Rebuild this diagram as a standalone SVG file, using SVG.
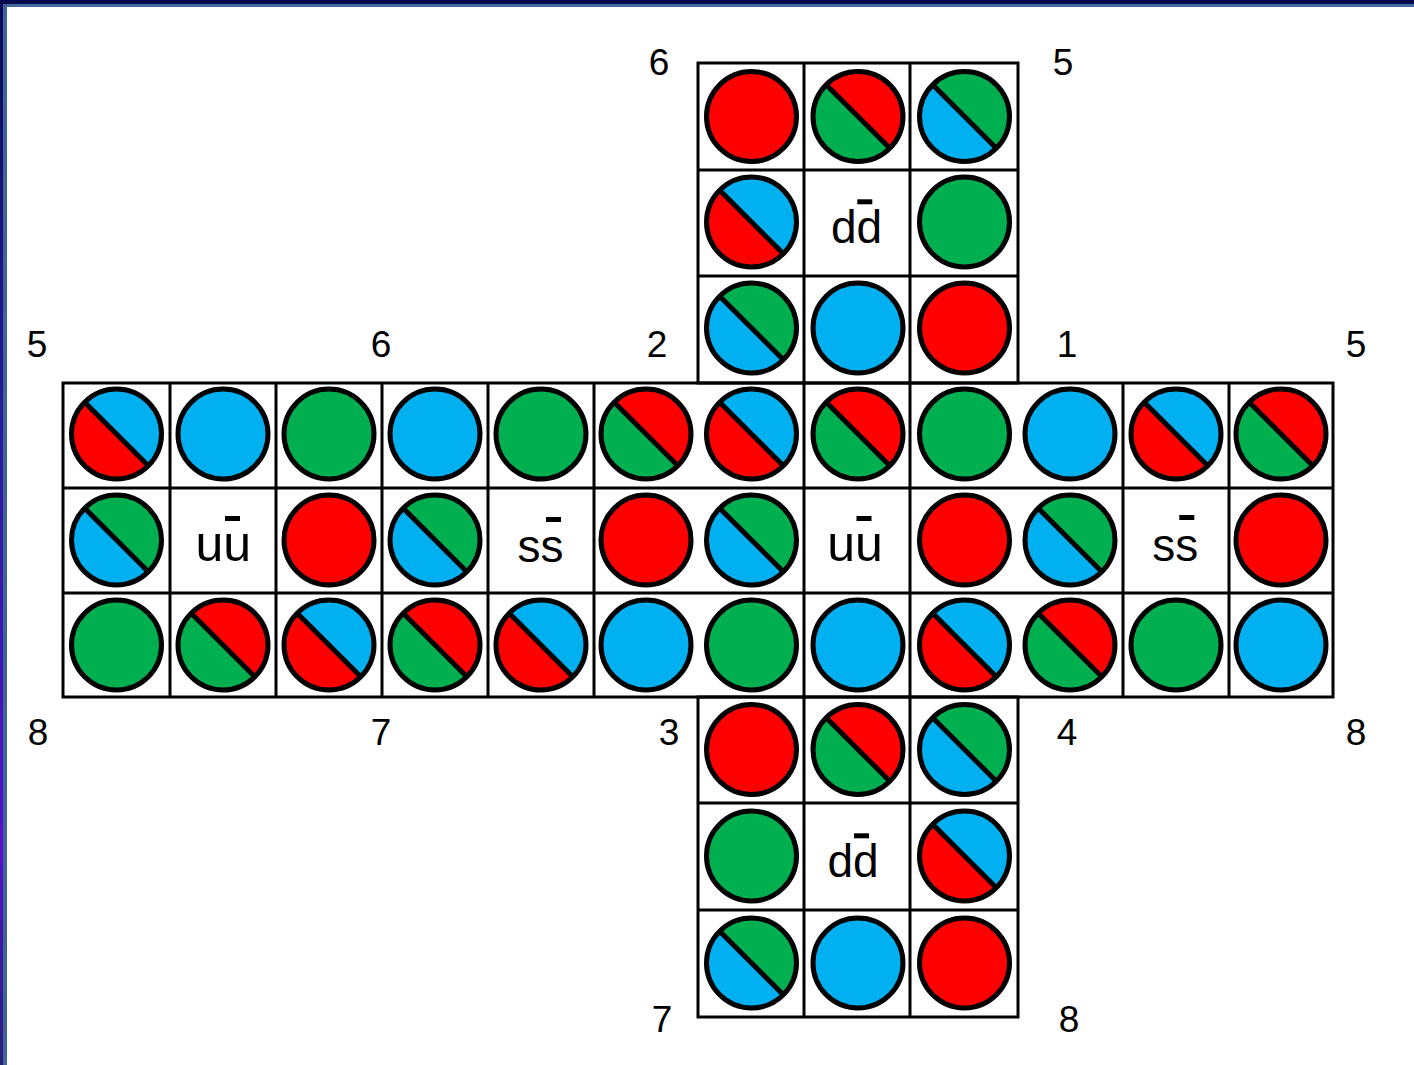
<svg xmlns="http://www.w3.org/2000/svg" xmlns:xlink="http://www.w3.org/1999/xlink" width="1414" height="1065" viewBox="0 0 1414 1065">
<style>
.R{fill:#FF0000}.G{fill:#00B050}.B{fill:#00B0F0}
.c{stroke:#000;stroke-width:5}
.grid{fill:none;stroke:#000;stroke-width:3}
.lbl{font-family:"Liberation Sans",Arial,sans-serif;font-size:37px;fill:#000;text-anchor:middle}
.q{font-family:"Liberation Sans",Arial,sans-serif;font-size:46px;fill:#000;text-anchor:middle}
.qu{font-size:50px}
.bar{fill:#000}
</style>
<defs>
<linearGradient id="lg" x1="0" y1="0" x2="0" y2="1">
<stop offset="0" stop-color="#080A58"/>
<stop offset="0.4" stop-color="#2A1A9A"/>
<stop offset="0.8" stop-color="#5810C8"/>
<stop offset="1" stop-color="#281E78"/>
</linearGradient>
<path id="ur" d="M-31.8,-31.8A45,45 0 0 1 31.8,31.8Z"/>
<path id="ll" d="M31.8,31.8A45,45 0 0 1 -31.8,-31.8Z"/>
<g id="edge"><circle r="45" fill="none" stroke="#000" stroke-width="5"/><line x1="-31.8" y1="-31.8" x2="31.8" y2="31.8" stroke="#000" stroke-width="5"/></g>
</defs>
<rect x="0" y="0" width="1414" height="1065" fill="#fff"/>
<g id="frame">
<rect x="0" y="0" width="1414" height="4" fill="#050A4E"/>
<rect x="3" y="4" width="1411" height="3" fill="#41689A"/>
<rect x="0" y="0" width="3" height="1065" fill="url(#lg)"/>
<rect x="3" y="4" width="4" height="1061" fill="#3F6598"/>
</g>
<g id="connectors">
<rect class="grid" x="698" y="63" width="320" height="320"/>
<rect class="grid" x="63" y="383" width="1270" height="314"/>
<rect class="grid" x="698" y="697" width="320" height="320"/>
<path class="grid" d="M804,63V383M910,63V383M698,170H1018M698,276H1018M170,383V697M276,383V697M382,383V697M488,383V697M594,383V697M804,383V697M910,383V697M1123,383V697M1229,383V697M63,488H1333M63,593H1333M804,697V1017M910,697V1017M698,803H1018M698,910H1018"/>
</g>
<g id="labels">
<text class="lbl" x="659" y="75">6</text>
<text class="lbl" x="1063" y="75">5</text>
<text class="lbl" x="37" y="357">5</text>
<text class="lbl" x="381" y="357">6</text>
<text class="lbl" x="657" y="357">2</text>
<text class="lbl" x="1067" y="357">1</text>
<text class="lbl" x="1356" y="357">5</text>
<text class="lbl" x="38" y="745">8</text>
<text class="lbl" x="381" y="745">7</text>
<text class="lbl" x="669" y="745">3</text>
<text class="lbl" x="1067" y="745">4</text>
<text class="lbl" x="1356" y="745">8</text>
<text class="lbl" x="662" y="1032">7</text>
<text class="lbl" x="1069" y="1032">8</text>
</g>
<g id="top-face">
<g id="t11" transform="translate(751.5,116.5)"><circle r="45" class="c R"/></g>
<g id="t12" transform="translate(858,116.5)"><use href="#ur" class="R"/><use href="#ll" class="G"/><use href="#edge"/></g>
<g id="t13" transform="translate(964.5,116.5)"><use href="#ur" class="G"/><use href="#ll" class="B"/><use href="#edge"/></g>
<g id="t21" transform="translate(751.5,222)"><use href="#ur" class="B"/><use href="#ll" class="R"/><use href="#edge"/></g>
<g id="t22" transform="translate(858,222)"><text class="q" x="-1.5" y="20.7">dd</text><rect class="bar" x="-0.7" y="-22.7" width="15" height="5"/></g>
<g id="t23" transform="translate(964.5,222)"><circle r="45" class="c G"/></g>
<g id="t31" transform="translate(751.5,328)"><use href="#ur" class="G"/><use href="#ll" class="B"/><use href="#edge"/></g>
<g id="t32" transform="translate(858,328)"><circle r="45" class="c B"/></g>
<g id="t33" transform="translate(964.5,328)"><circle r="45" class="c R"/></g>
</g>
<g id="band">
<g id="b11" transform="translate(116.5,434)"><use href="#ur" class="B"/><use href="#ll" class="R"/><use href="#edge"/></g>
<g id="b12" transform="translate(223,434)"><circle r="45" class="c B"/></g>
<g id="b13" transform="translate(329,434)"><circle r="45" class="c G"/></g>
<g id="b14" transform="translate(435,434)"><circle r="45" class="c B"/></g>
<g id="b15" transform="translate(541,434)"><circle r="45" class="c G"/></g>
<g id="b16" transform="translate(646,434)"><use href="#ur" class="R"/><use href="#ll" class="G"/><use href="#edge"/></g>
<g id="b17" transform="translate(751.5,434)"><use href="#ur" class="B"/><use href="#ll" class="R"/><use href="#edge"/></g>
<g id="b18" transform="translate(858,434)"><use href="#ur" class="R"/><use href="#ll" class="G"/><use href="#edge"/></g>
<g id="b19" transform="translate(964.5,434)"><circle r="45" class="c G"/></g>
<g id="b110" transform="translate(1070,434)"><circle r="45" class="c B"/></g>
<g id="b111" transform="translate(1176,434)"><use href="#ur" class="B"/><use href="#ll" class="R"/><use href="#edge"/></g>
<g id="b112" transform="translate(1281,434)"><use href="#ur" class="R"/><use href="#ll" class="G"/><use href="#edge"/></g>

<g id="b21" transform="translate(116.5,540)"><use href="#ur" class="G"/><use href="#ll" class="B"/><use href="#edge"/></g>
<g id="b22" transform="translate(223,540)"><text class="q qu" x="0.3" y="21">uu</text><rect class="bar" x="2" y="-24" width="15" height="5"/></g>
<g id="b23" transform="translate(329,540)"><circle r="45" class="c R"/></g>
<g id="b24" transform="translate(435,540)"><use href="#ur" class="G"/><use href="#ll" class="B"/><use href="#edge"/></g>
<g id="b25" transform="translate(541,540)"><text class="q" x="-0.5" y="21.5">ss</text><rect class="bar" x="5" y="-23" width="15" height="5"/></g>
<g id="b26" transform="translate(646,540)"><circle r="45" class="c R"/></g>
<g id="b27" transform="translate(751.5,540)"><use href="#ur" class="G"/><use href="#ll" class="B"/><use href="#edge"/></g>
<g id="b28" transform="translate(858,540)"><text class="q qu" x="-3" y="21">uu</text><rect class="bar" x="-1.5" y="-24" width="15" height="5"/></g>
<g id="b29" transform="translate(964.5,540)"><circle r="45" class="c R"/></g>
<g id="b210" transform="translate(1070,540)"><use href="#ur" class="G"/><use href="#ll" class="B"/><use href="#edge"/></g>
<g id="b211" transform="translate(1176,540)"><text class="q" x="-0.7" y="21">ss</text><rect class="bar" x="3.3" y="-25" width="15" height="5"/></g>
<g id="b212" transform="translate(1281,540)"><circle r="45" class="c R"/></g>

<g id="b31" transform="translate(116.5,645)"><circle r="45" class="c G"/></g>
<g id="b32" transform="translate(223,645)"><use href="#ur" class="R"/><use href="#ll" class="G"/><use href="#edge"/></g>
<g id="b33" transform="translate(329,645)"><use href="#ur" class="B"/><use href="#ll" class="R"/><use href="#edge"/></g>
<g id="b34" transform="translate(435,645)"><use href="#ur" class="R"/><use href="#ll" class="G"/><use href="#edge"/></g>
<g id="b35" transform="translate(541,645)"><use href="#ur" class="B"/><use href="#ll" class="R"/><use href="#edge"/></g>
<g id="b36" transform="translate(646,645)"><circle r="45" class="c B"/></g>
<g id="b37" transform="translate(751.5,645)"><circle r="45" class="c G"/></g>
<g id="b38" transform="translate(858,645)"><circle r="45" class="c B"/></g>
<g id="b39" transform="translate(964.5,645)"><use href="#ur" class="B"/><use href="#ll" class="R"/><use href="#edge"/></g>
<g id="b310" transform="translate(1070,645)"><use href="#ur" class="R"/><use href="#ll" class="G"/><use href="#edge"/></g>
<g id="b311" transform="translate(1176,645)"><circle r="45" class="c G"/></g>
<g id="b312" transform="translate(1281,645)"><circle r="45" class="c B"/></g>
</g>
<g id="bottom-face">
<g id="d11" transform="translate(751.5,749.5)"><circle r="45" class="c R"/></g>
<g id="d12" transform="translate(858,749.5)"><use href="#ur" class="R"/><use href="#ll" class="G"/><use href="#edge"/></g>
<g id="d13" transform="translate(964.5,749.5)"><use href="#ur" class="G"/><use href="#ll" class="B"/><use href="#edge"/></g>
<g id="d21" transform="translate(751.5,856)"><circle r="45" class="c G"/></g>
<g id="d22" transform="translate(858,856)"><text class="q" x="-5" y="20.7">dd</text><rect class="bar" x="-4" y="-22.7" width="15" height="5"/></g>
<g id="d23" transform="translate(964.5,856)"><use href="#ur" class="B"/><use href="#ll" class="R"/><use href="#edge"/></g>
<g id="d31" transform="translate(751.5,963)"><use href="#ur" class="G"/><use href="#ll" class="B"/><use href="#edge"/></g>
<g id="d32" transform="translate(858,963)"><circle r="45" class="c B"/></g>
<g id="d33" transform="translate(964.5,963)"><circle r="45" class="c R"/></g>
</g>
</svg>
